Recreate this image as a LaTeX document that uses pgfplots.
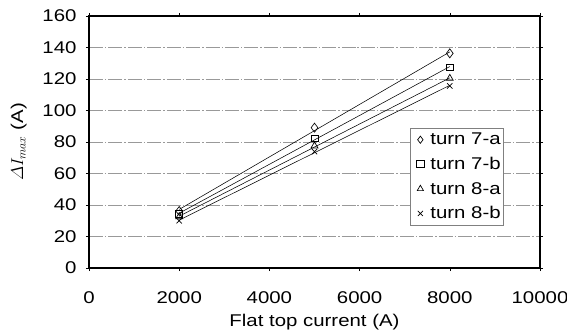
\documentclass[border=0pt]{standalone}
\usepackage{fontspec}
\setmainfont{Liberation Sans}[FakeStretch=1.2]
\usepackage{pgfplots}
\pgfplotsset{compat=1.18}
\begin{document}
\begin{tikzpicture}[font=\fontsize{17bp}{20bp}\selectfont]
\begin{axis}[
  scale only axis,
  width=451bp, height=252bp,
  xmin=0, xmax=10000, ymin=0, ymax=160,
  xtick={0,2000,...,10000}, ytick={0,20,...,160},
  /pgf/number format/assume math mode=true,
  /pgf/number format/1000 sep={},
  scaled x ticks=false,
  tick align=outside, tick style={black, thin}, major tick length=3bp,
  xticklabel style={yshift=-17bp},
  yticklabel style={xshift=-6bp},
  axis line style={black, line width=1.1pt},
  ymajorgrids,
  grid style={gray!80, line width=0.5pt, dash pattern=on 14pt off 2pt on 1.5pt off 2pt},
  xlabel={Flat top current (A)},
  ylabel={$\mathnormal{\Delta} I_{max}$ (A)},
  xlabel style={yshift=-4bp},
  ylabel style={yshift=9bp},
  legend style={at={(rel axis cs:0.920,0.556)}, anchor=north east, draw=gray, fill=white, line width=0.5pt, row sep=9bp, inner xsep=2bp, inner ysep=4bp,
    nodes={inner xsep=1bp, inner ysep=1bp}},
  legend cell align=left,
  legend image code/.code={\path[draw=none, fill=none] (0bp,0bp) -- (17bp,0bp); \draw[#1, mark size=3.6bp] plot coordinates {(8bp,0bp)};},
  clip=false,
]
% trend lines
\addplot[black, line width=0.55pt, forget plot] coordinates {(2000,37.2) (8000,137.2)};
\addplot[black, line width=0.55pt, forget plot] coordinates {(2000,34.8) (8000,127.9)};
\addplot[black, line width=0.55pt, forget plot] coordinates {(2000,32.9) (8000,120.7)};
\addplot[black, line width=0.55pt, forget plot] coordinates {(2000,30.4) (8000,116.0)};
% data
\addplot[only marks, mark=diamond, mark size=4.5bp, mark options={black, line width=0.7pt}] coordinates {(2000,36.2) (5000,89.1) (8000,136.3)};
\addlegendentry{turn 7-a}
\addplot[only marks, mark=square, mark size=3.4bp, mark options={black, line width=0.7pt}] coordinates {(2000,34.3) (5000,82.3) (8000,127.4)};
\addlegendentry{turn 7-b}
\addplot[only marks, mark=triangle, mark size=4bp, mark options={black, line width=0.7pt}] coordinates {(2000,32.6) (5000,77.5) (8000,120.4)};
\addlegendentry{turn 8-a}
\addplot[only marks, mark=x, mark size=3.8bp, mark options={black, line width=0.7pt}] coordinates {(2000,30.0) (5000,73.9) (8000,115.6)};
\addlegendentry{turn 8-b}
\end{axis}
\pgfresetboundingbox
\path[use as bounding box] ([shift={(-89bp,-68bp)}]current axis.south west) rectangle ([shift={(27bp,16bp)}]current axis.north east);
\end{tikzpicture}
\end{document}
